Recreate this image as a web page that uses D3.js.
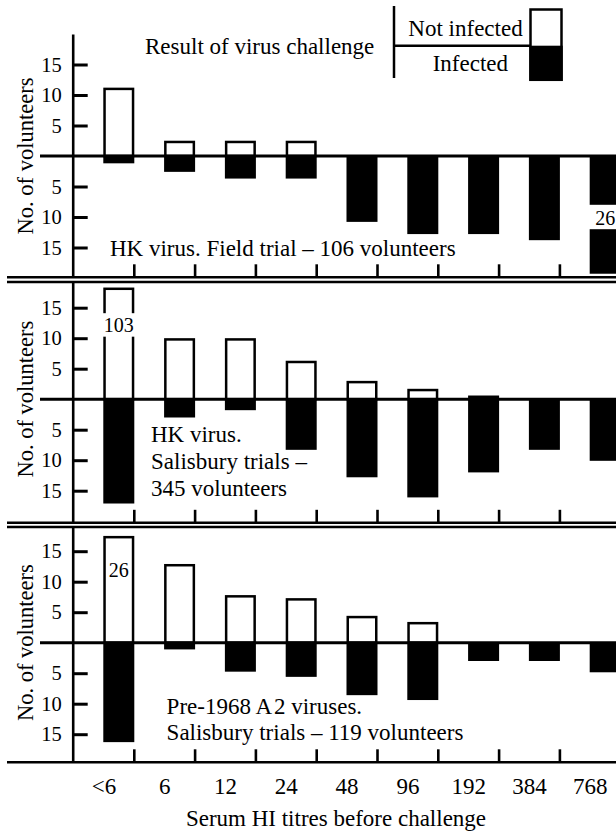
<!DOCTYPE html>
<html>
<head>
<meta charset="utf-8">
<script src="https://cdn.jsdelivr.net/npm/d3@7"></script>
<style>
  html, body { margin: 0; padding: 0; background: #fff; }
  svg { display: block; font-family: "Liberation Serif", "Tinos", "DejaVu Serif", "Times New Roman", serif; }
  svg text { font-family: "Liberation Serif", "Tinos", "DejaVu Serif", "Times New Roman", serif !important; fill: #000; }
</style>
</head>
<body>
<svg id="chart" width="616" height="833"></svg>
<script>
// ---------------- data ----------------
const titres = ["<6", "6", "12", "24", "48", "96", "192", "384", "768"];

// Panel 1: HK virus, field trial
const fieldNotInfected = [11, 2.3, 2.3, 2.3, 0, 0, 0, 0, 0];
const fieldInfected    = [1.2, 2.6, 3.7, 3.7, 10.8, 12.8, 12.8, 13.8, 26];

// Panel 2: HK virus, Salisbury trials
const hkSalNotInfected = [103, 9.8, 9.8, 6.1, 2.8, 1.5, 0.4, 0, 0];
const hkSalInfected    = [17.1, 3, 1.8, 8.3, 12.8, 16.1, 12, 8.3, 10.1];

// Panel 3: Pre-1968 A2 viruses, Salisbury trials
const a2NotInfected = [26, 12.7, 7.6, 7.1, 4.2, 3.2, 0, 0, 0];
const a2Infected    = [16.3, 1.1, 4.75, 5.6, 8.6, 9.4, 3, 3, 4.85];

const yTickValues = [-15, -10, -5, 5, 10, 15];

const panelLabels = [
  ["HK virus. Field trial \u2013 106 volunteers"],
  ["HK virus.", "Salisbury trials \u2013", "345 volunteers"],
  ["Pre-1968 A\u200a2 viruses.", "Salisbury trials \u2013 119 volunteers"]
];

const legendTitle = "Result of virus challenge";
const legendItems = ["Not infected", "Infected"];
const xTitle = "Serum HI titres before challenge";
const yTitle = "No. of volunteers";

// ---------------- layout ----------------
const FONT = '"Liberation Serif", "Tinos", "DejaVu Serif", "Times New Roman", serif';
const UNIT = 6.1;            // px per volunteer
const AXIS_X = 72.7;
const svg = d3.select("#chart").attr("font-family", FONT);

const x = d3.scaleBand().domain(titres).range([73.5, 73.5 + 60.8 * 9]).padding(0);
const bw = x.bandwidth();
const barLeft = c => x(c) + bw * 0.49;
const barRight = c => x(c) + bw;

const panels = [
  { top: 34,  bottom: 277.3, base: 156,   ni: fieldNotInfected, inf: fieldInfected,
    labelX: 110, labelY: [248],
    breaks: [{ series: "inf", index: 8, cap: 19.3, gapLo: 8.0, gapHi: 12.0, labelAt: 10.1 }] },
  { top: 282, bottom: 522.8, base: 399.2, ni: hkSalNotInfected, inf: hkSalInfected,
    labelX: 151, labelY: [434, 461, 488],
    breaks: [{ series: "ni", index: 0, cap: 18.1, gapLo: 10.25, gapHi: 14.1, labelAt: 12.1 }] },
  { top: 527, bottom: 762.3, base: 642.7, ni: a2NotInfected, inf: a2Infected,
    labelX: 166.6, labelY: [706.7, 732.7],
    breaks: [{ series: "ni", index: 0, cap: 17.3, gapLo: null, gapHi: null, labelAt: 11.9 }] }
];

function txt(sel, size) {
  return sel.attr("font-family", FONT).style("font-family", FONT).style("font-size", size + "px").attr("fill", "#000");
}

// separator lines (double rules between panels, single at bottom)
const rules = [277.3, 282, 522.8, 527, 762.3];
svg.selectAll("line.rule").data(rules).join("line")
  .attr("class", "rule")
  .attr("x1", 7).attr("x2", 616)
  .attr("y1", d => d).attr("y2", d => d)
  .attr("stroke", "#000").attr("stroke-width", 2.6);

panels.forEach((p, pi) => {
  const g = svg.append("g");
  const y = d3.scaleLinear()
    .domain([-(p.bottom - p.base) / UNIT, (p.base - p.top) / UNIT])
    .range([p.bottom, p.top]);

  const brk = p.breaks[0];
  const shown = (series, i, v) =>
    (brk.series === series && brk.index === i) ? brk.cap : v;

  // infected (black, below baseline)
  g.selectAll("rect.inf").data(titres.map((c, i) => ({ c, i, v: shown("inf", i, p.inf[i]) })))
    .join("rect")
    .attr("class", "inf")
    .attr("x", d => barLeft(d.c))
    .attr("width", d => barRight(d.c) - barLeft(d.c))
    .attr("y", y(0))
    .attr("height", d => Math.max(0, y(-d.v) - y(0)))
    .attr("fill", "#000");

  // not infected (white, outlined, above baseline)
  g.selectAll("rect.ni").data(titres.map((c, i) => ({ c, i, v: shown("ni", i, p.ni[i]) })).filter(d => d.v > 0))
    .join("rect")
    .attr("class", "ni")
    .attr("x", d => barLeft(d.c) + 1.25)
    .attr("width", d => barRight(d.c) - barLeft(d.c) - 2.5)
    .attr("y", d => y(d.v))
    .attr("height", d => y(0) - y(d.v))
    .attr("fill", "#fff")
    .attr("stroke", "#000")
    .attr("stroke-width", 2.5);

  // breaks in over-tall bars, with the true value written in
  p.breaks.forEach(b => {
    const c = titres[b.index];
    const sign = b.series === "inf" ? -1 : 1;
    const val = b.series === "inf" ? p.inf[b.index] : p.ni[b.index];
    if (b.gapLo !== null) {
      const yA = y(sign * b.gapLo), yB = y(sign * b.gapHi);
      g.append("rect")
        .attr("x", barLeft(c) - 2).attr("width", barRight(c) - barLeft(c) + 4)
        .attr("y", Math.min(yA, yB)).attr("height", Math.abs(yB - yA))
        .attr("fill", "#fff");
    }
    txt(g.append("text"), 20)
      .attr("x", (barLeft(c) + barRight(c)) / 2)
      .attr("y", y(sign * b.labelAt))
      .attr("text-anchor", "middle")
      .attr("dominant-baseline", "central")
      .text(val);
  });

  // zero baseline
  g.append("line")
    .attr("x1", 40).attr("x2", 616)
    .attr("y1", y(0)).attr("y2", y(0))
    .attr("stroke", "#000").attr("stroke-width", 3);

  // y axis
  const yAxis = d3.axisLeft(y)
    .tickValues(yTickValues)
    .tickFormat(d => Math.abs(d))
    .tickSizeInner(-15)
    .tickSizeOuter(0)
    .tickPadding(11);
  const ga = g.append("g").attr("transform", `translate(${AXIS_X},0)`).call(yAxis);
  ga.attr("font-family", FONT);
  ga.select(".domain").attr("stroke", "#000").attr("stroke-width", 2.6);
  ga.selectAll(".tick line").attr("stroke", "#000").attr("stroke-width", 3);
  txt(ga.selectAll(".tick text"), 20.5);

  // x ticks on bottom rule (at right edge of every bar)
  g.selectAll("line.xt").data(titres).join("line")
    .attr("class", "xt")
    .attr("x1", d => barRight(d)).attr("x2", d => barRight(d))
    .attr("y1", p.bottom).attr("y2", p.bottom - 13)
    .attr("stroke", "#000").attr("stroke-width", 2.6);

  // y title
  txt(g.append("text"), 22.5)
    .attr("transform", `translate(25,${p.base}) rotate(-90)`)
    .attr("text-anchor", "middle")
    .attr("dominant-baseline", "central")
    .text(yTitle);

  // panel label
  txt(g.selectAll("text.plabel").data(panelLabels[pi]).join("text"), 23)
    .attr("class", "plabel")
    .attr("x", p.labelX)
    .attr("y", (d, i) => p.labelY[i])
    .attr("dominant-baseline", "central")
    .text(d => d);

  if (pi === 2) {
    const xAxis = d3.axisBottom(x).tickSize(0).tickPadding(0);
    const gx = g.append("g").attr("transform", `translate(0,786.7)`).call(xAxis);
    gx.attr("font-family", FONT);
    gx.select(".domain").remove();
    txt(gx.selectAll(".tick text"), 23)
      .attr("dy", null).attr("y", 0)
      .attr("dominant-baseline", "central");
  }
});

// x title
txt(svg.append("text"), 23)
  .attr("x", 336).attr("y", 818)
  .attr("text-anchor", "middle")
  .attr("dominant-baseline", "central")
  .text(xTitle);

// legend
const lg = svg.append("g");
txt(lg.append("text"), 23).attr("x", 145).attr("y", 46)
  .attr("dominant-baseline", "central").text(legendTitle);
lg.append("line").attr("x1", 394).attr("x2", 394).attr("y1", 6).attr("y2", 78)
  .attr("stroke", "#000").attr("stroke-width", 2.5);
lg.append("line").attr("x1", 394).attr("x2", 530).attr("y1", 45.7).attr("y2", 45.7)
  .attr("stroke", "#000").attr("stroke-width", 2.5);
txt(lg.append("text"), 23).attr("x", 522.7).attr("y", 28).attr("text-anchor", "end")
  .attr("dominant-baseline", "central").text(legendItems[0]);
txt(lg.append("text"), 23).attr("x", 508).attr("y", 63).attr("text-anchor", "end")
  .attr("dominant-baseline", "central").text(legendItems[1]);
lg.append("rect").attr("x", 530.5).attr("y", 9.5).attr("width", 31).attr("height", 70.3)
  .attr("fill", "#fff").attr("stroke", "#000").attr("stroke-width", 2.5);
lg.append("rect").attr("x", 529.3).attr("y", 45.7).attr("width", 33.4).attr("height", 35.3)
  .attr("fill", "#000");
</script>
</body>
</html>
